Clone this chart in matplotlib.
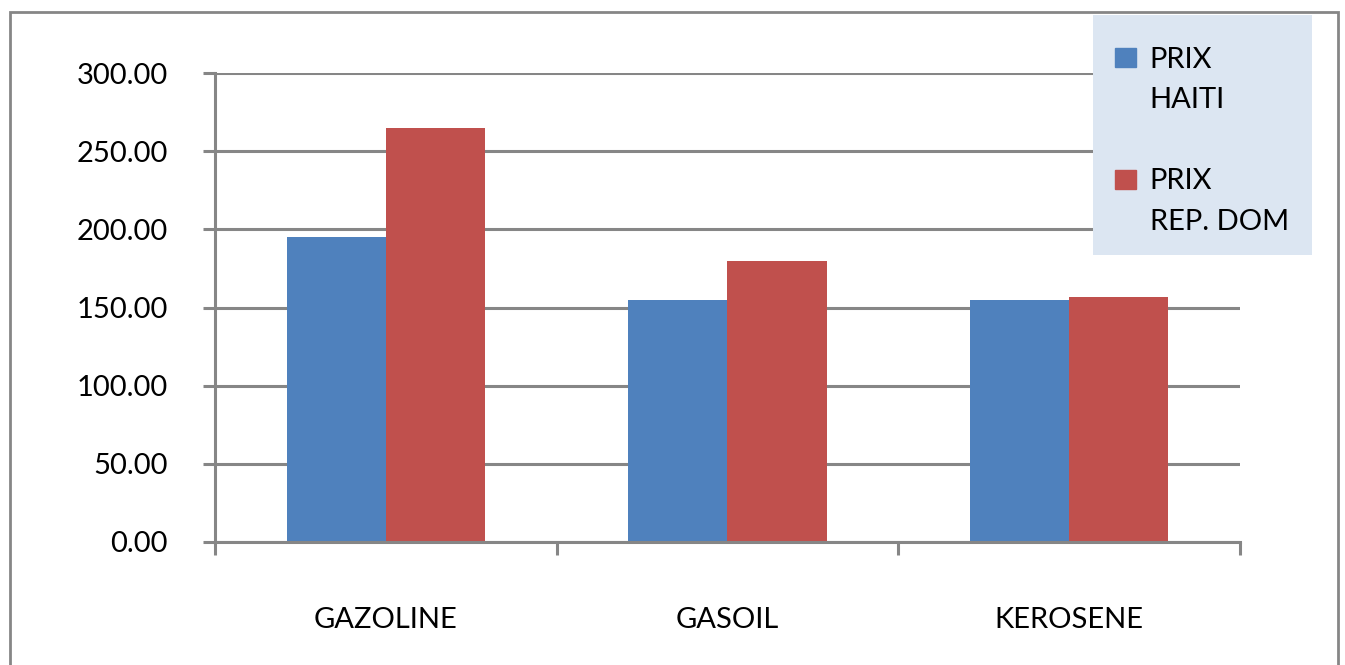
import numpy as np
import matplotlib.pyplot as plt
from matplotlib.patches import Rectangle, Patch

categories = ['GAZOLINE', 'GASOIL', 'KEROSENE']
prix_haiti = [195, 155, 155]
prix_rep_dom = [265, 180, 157]
legend_rows = ['PRIX', 'HAITI', '', 'PRIX', 'REP. DOM']
yticks = [0, 50, 100, 150, 200, 250, 300]

blue = '#4F81BD'
red = '#C0504D'
grey = '#868686'

plt.rcParams['font.family'] = ['Lato', 'DejaVu Sans']

W, H = 1345, 665
fig = plt.figure(figsize=(W / 100, H / 100), dpi=100)
ax = fig.add_axes([215 / W, 1 - 542 / H, (1240 - 215) / W, (542 - 73) / H])

x = np.arange(len(categories))
bw = 0.29
ax.bar(x - bw / 2, prix_haiti, bw, color=blue, zorder=3)
ax.bar(x + bw / 2, prix_rep_dom, bw, color=red, zorder=3)

ax.set_xlim(-0.5, len(categories) - 0.5)
ax.set_ylim(0, 300)
ax.set_yticks(yticks)
ax.set_yticklabels([f'{v:.2f}' for v in yticks], fontsize=21)
ax.yaxis.grid(True, color=grey, linewidth=2.2, zorder=0)
ax.tick_params(axis='y', length=9, width=2.2, color=grey, pad=25)

ax.set_xticks(x)
ax.set_xticklabels(categories, fontsize=21)
ax.set_xticks(np.arange(len(categories) + 1) - 0.5, minor=True)
ax.tick_params(axis='x', which='major', length=0, pad=47)
ax.tick_params(axis='x', which='minor', length=9, width=2.2, color=grey)

for s in ['top', 'right']:
    ax.spines[s].set_visible(False)
for s in ['left', 'bottom']:
    ax.spines[s].set_color(grey)
    ax.spines[s].set_linewidth(2.2)
    ax.spines[s].set_zorder(4)

# outer chart border
fig.add_artist(Rectangle((10 / W, -0.1), (1338 - 10) / W, 1.1 - 12 / H,
                         transform=fig.transFigure, fill=False,
                         edgecolor=grey, linewidth=2))

# legend box
fig.add_artist(Rectangle((1093 / W, 1 - 255 / H), (1312 - 1093) / W, (255 - 15) / H,
                         transform=fig.transFigure, facecolor='#DCE6F2',
                         edgecolor='none'))
handles = [Patch(color=blue), Patch(visible=False), Patch(visible=False),
           Patch(color=red), Patch(visible=False)]
leg = fig.legend(handles, legend_rows, loc='upper left',
                 bbox_to_anchor=(1100 / W, 1 - 32 / H), frameon=False,
                 fontsize=21, handlelength=0.75, handleheight=0.62,
                 handletextpad=0.45, labelspacing=0.5, borderpad=0)

fig.savefig('out.png', dpi=100)
